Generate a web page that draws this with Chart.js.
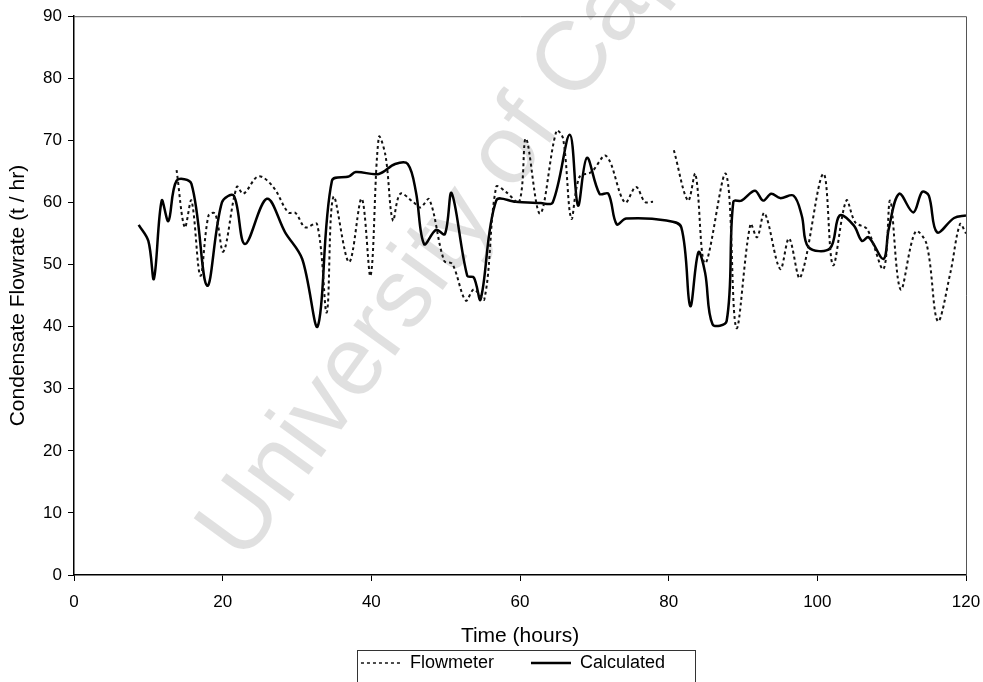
<!DOCTYPE html>
<html>
<head>
<meta charset="utf-8">
<script src="https://cdn.jsdelivr.net/npm/chart.js@4"></script>
<style>
  html, body { margin: 0; padding: 0; background: #fff; }
  #wrap { width: 983px; height: 682px; }
</style>
</head>
<body>
<div id="wrap"><canvas id="flowChart" width="983" height="682"></canvas></div>
<script>
// time in hours and condensate flowrate in t/hr
var calcTime = [8.7, 10.0, 10.75, 11.8, 12.7, 13.8, 15.8, 17.9, 19.9, 21.5, 23.0, 25.95, 28.4, 30.7, 32.8,
  34.7, 37.0, 37.9, 41.0, 43.2, 44.9, 46.0, 47.1, 48.7, 49.9, 50.8, 52.9, 53.8, 54.7, 56.8, 59.4,
  62.8, 64.4, 66.7, 67.8, 69.0, 70.7, 71.9, 73.0, 74.3, 79.7, 81.7, 82.9, 84.0, 84.9, 85.9, 87.8,
  88.7, 89.8, 91.6, 92.7, 93.8, 95.0, 96.8, 97.9, 98.8, 101.7, 103.0, 104.9, 106.0, 106.9, 108.9,
  109.6, 111.0, 112.9, 114.1, 115.0, 116.1, 118.4, 120];
var calculated = [56.4, 53.8, 47.7, 60.3, 57.0, 63.5, 63.0, 46.6, 60.0, 61.1, 53.3, 60.6, 55.2, 50.9, 40.1,
  63.5, 64.2, 64.9, 64.6, 66.2, 66.2, 61.7, 53.3, 55.6, 54.9, 61.5, 48.2, 47.9, 44.4, 60.3, 60.1,
  59.9, 60.0, 70.9, 59.5, 67.2, 61.4, 61.4, 56.5, 57.4, 57.1, 56.0, 43.3, 52.0, 48.7, 40.4, 40.9,
  60.1, 60.3, 61.9, 60.3, 61.4, 60.7, 61.1, 57.9, 52.8, 52.6, 57.9, 56.3, 53.8, 54.4, 50.9,
  55.7, 61.4, 58.4, 61.7, 61.1, 55.2, 57.5, 57.9];

// flowmeter has no readings between about 78 and 80.5 h (null = gap)
var flowTime = [13.8, 14.9, 15.8, 17.0, 18.1, 19.0, 20.1, 21.9, 22.8, 24.8, 26.8, 28.8, 29.8, 31.1, 32.7,
  34.0, 34.9, 37.0, 38.7, 39.9, 41.0, 41.9, 42.9, 43.9, 45.7, 46.6, 47.8, 49.8, 50.9, 52.7, 53.8,
  55.2, 56.8, 58.1, 59.9, 60.8, 62.7, 64.9, 65.8, 66.9, 68.0, 69.6, 71.6, 74.1, 75.6, 76.8, 77.9,
  79.0, 80.7, 82.6, 83.6, 84.9, 87.7, 89.1, 91.0, 91.9, 92.9, 95.0, 96.2, 97.7, 100.8, 102.1,
  103.9, 105.1, 106.7, 108.9, 109.8, 111.2, 113.2, 114.7, 116.2, 117.9, 119.2, 120];
var flowmeter = [65.2, 56.0, 60.3, 48.2, 57.9, 58.2, 52.1, 62.5, 61.4, 64.2, 62.5, 58.4, 58.3, 56.0, 56.5,
  42.3, 60.9, 50.4, 60.6, 48.2, 70.5, 67.6, 57.1, 61.4, 60.0, 59.2, 60.5, 50.6, 50.1, 44.2, 46.0,
  44.4, 62.5, 61.7, 60.1, 70.3, 58.2, 71.5, 70.3, 57.4, 64.1, 64.9, 67.5, 60.0, 62.5, 60.1, 60.1,
  null, 68.4, 60.3, 64.6, 50.2, 64.6, 39.8, 56.5, 54.4, 58.3, 49.3, 54.2, 47.9, 64.6, 49.9,
  60.3, 56.8, 55.7, 49.3, 60.3, 46.0, 55.3, 53.3, 40.9, 48.7, 56.5, 55.0];

var xTicks = [0, 20, 40, 60, 80, 100, 120];
var yTicks = [0, 10, 20, 30, 40, 50, 60, 70, 80, 90];

function toPoints(xs, ys) {
  return xs.map(function (x, i) { return { x: x, y: ys[i] }; });
}

var FONT = '"Liberation Sans", Arial, sans-serif';

var extras = {
  id: 'extras',
  afterLayout: function (chart) {
    // legend sits a little right of centre in the original
    chart.legend.left += 30;
    chart.legend.right += 30;
  },
  beforeDatasetsDraw: function (chart) {
    var ctx = chart.ctx;
    // faint watermark behind the lines
    ctx.save();
    ctx.translate(222, 548);
    ctx.rotate(-54 * Math.PI / 180);
    ctx.font = '98px ' + FONT;
    ctx.fillStyle = 'rgba(0,0,0,0.12)';
    ctx.fillText('University of Cape Town', 0, 0);
    ctx.restore();

    // plot frame top and right
    var a = chart.chartArea;
    ctx.save();
    ctx.strokeStyle = '#555';
    ctx.lineWidth = 1;
    ctx.beginPath();
    ctx.moveTo(a.left, a.top + 0.5);
    ctx.lineTo(a.right + 0.5, a.top + 0.5);
    ctx.lineTo(a.right + 0.5, a.bottom);
    ctx.stroke();
    ctx.restore();
  },
  afterDraw: function (chart) {
    var boxes = chart.legend.legendHitBoxes;
    if (!boxes || !boxes.length) return;
    var first = boxes[0], last = boxes[boxes.length - 1];
    var ctx = chart.ctx;
    ctx.save();
    ctx.strokeStyle = '#333';
    ctx.lineWidth = 1;
    var midY = first.top + first.height / 2;
    ctx.strokeRect(Math.round(first.left - 4) + 0.5, Math.round(midY - 13) + 0.5,
      Math.round(last.left + last.width - first.left + 34), 40);
    ctx.restore();
  }
};

var ctx = document.getElementById('flowChart').getContext('2d');
var flowChart = new Chart(ctx, {
  type: 'line',
  data: {
    datasets: [{
      label: 'Flowmeter',
      data: toPoints(flowTime, flowmeter),
      borderColor: '#111',
      borderWidth: 2,
      borderDash: [3, 3],
      pointRadius: 0,
      pointStyle: 'line',
      tension: 0.35,
      spanGaps: false,
      fill: false
    }, {
      label: 'Calculated',
      data: toPoints(calcTime, calculated),
      borderColor: '#000',
      borderWidth: 2.5,
      pointRadius: 0,
      pointStyle: 'line',
      tension: 0.35,
      fill: false
    }]
  },
  options: {
    responsive: false,
    animation: false,
    layout: { padding: { left: 0, top: 16, right: 17, bottom: 0 } },
    plugins: {
      tooltip: { enabled: false },
      legend: {
        position: 'bottom',
        labels: {
          usePointStyle: true,
          pointStyleWidth: 40,
          color: '#000',
          font: { family: FONT, size: 18 },
          padding: 37,
          generateLabels: function (chart) {
            var items = Chart.defaults.plugins.legend.labels.generateLabels(chart);
            items.forEach(function (it) {
              var ds = chart.data.datasets[it.datasetIndex];
              it.lineDash = ds.borderDash || [];
              it.lineWidth = ds.borderDash ? 1.5 : 2.5;
              it.strokeStyle = ds.borderColor;
            });
            return items;
          }
        }
      }
    },
    scales: {
      x: {
        type: 'linear',
        min: 0,
        max: 120,
        afterBuildTicks: function (s) { s.ticks = xTicks.map(function (v) { return { value: v }; }); },
        afterFit: function (s) { s.height = 42; s.paddingLeft = 0; s.paddingRight = 0; },
        grid: { drawOnChartArea: false, tickLength: 6, color: '#000' },
        border: { color: '#000', width: 1.5 },
        ticks: { color: '#000', font: { family: FONT, size: 17 }, padding: 11, maxRotation: 0 },
        title: { display: true, text: 'Time (hours)', color: '#000', font: { family: FONT, size: 21 }, padding: { top: 0, bottom: -32 } }
      },
      y: {
        min: 0,
        max: 90,
        afterBuildTicks: function (s) { s.ticks = yTicks.map(function (v) { return { value: v }; }); },
        afterFit: function (s) { s.width = 74; },
        grid: { drawOnChartArea: false, tickLength: 6, color: '#000' },
        border: { color: '#000', width: 1.5 },
        ticks: { color: '#000', font: { family: FONT, size: 17 }, padding: 6 },
        title: { display: true, text: 'Condensate Flowrate (t / hr)', color: '#000', font: { family: FONT, size: 21 }, padding: { top: 6, bottom: 0 } }
      }
    }
  },
  plugins: [extras]
});
</script>
</body>
</html>
